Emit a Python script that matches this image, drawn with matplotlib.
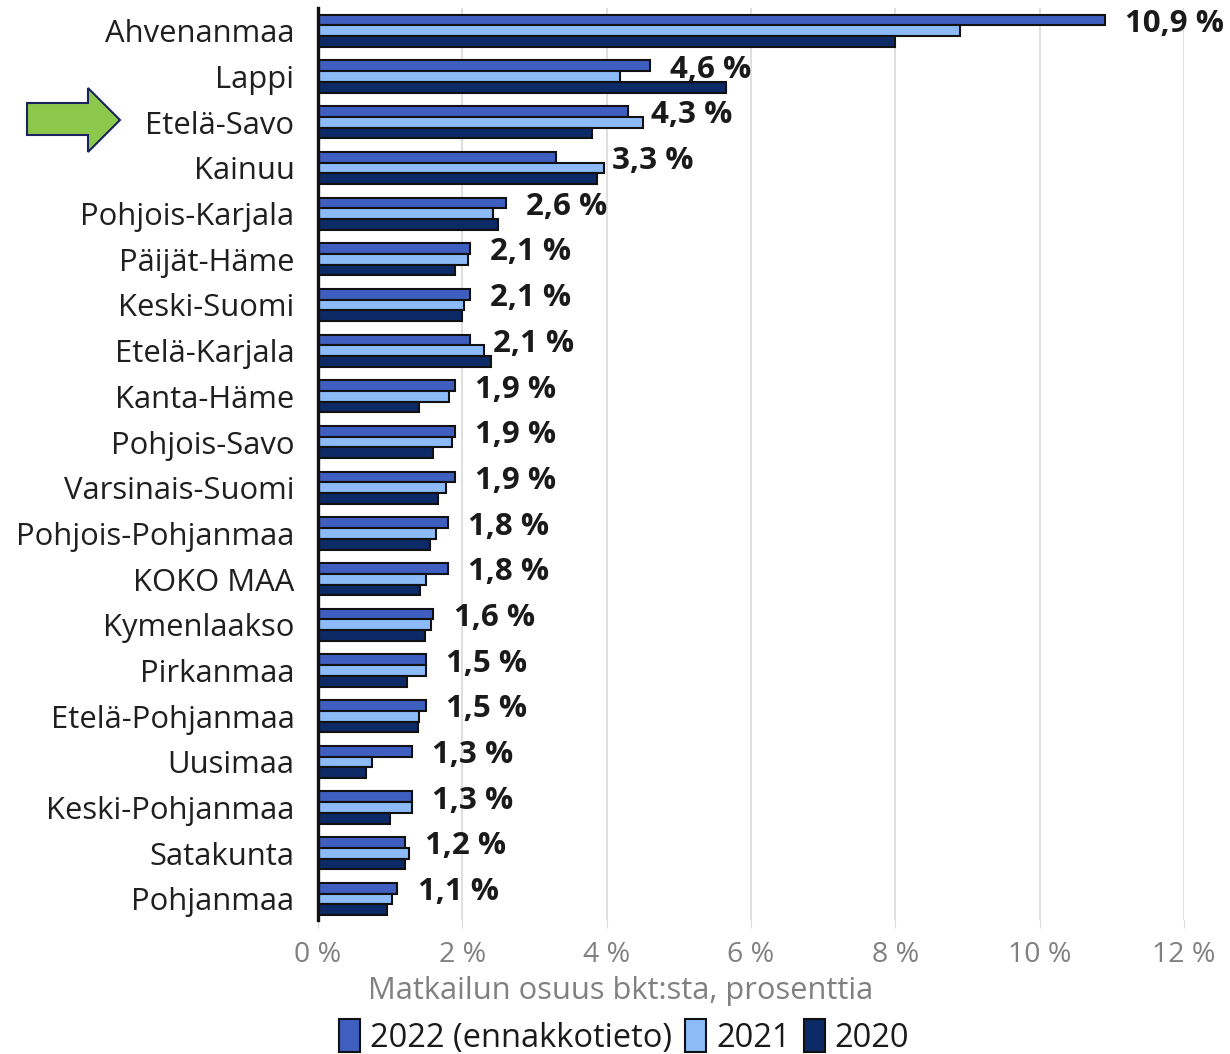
import matplotlib
matplotlib.use("Agg")
import matplotlib.pyplot as plt
from matplotlib.patches import Polygon, Patch
import numpy as np

plt.rcParams['font.family'] = ['Open Sans', 'DejaVu Sans']

regions = ["Ahvenanmaa", "Lappi", "Etelä-Savo", "Kainuu", "Pohjois-Karjala",
           "Päijät-Häme", "Keski-Suomi", "Etelä-Karjala", "Kanta-Häme",
           "Pohjois-Savo", "Varsinais-Suomi", "Pohjois-Pohjanmaa", "KOKO MAA",
           "Kymenlaakso", "Pirkanmaa", "Etelä-Pohjanmaa", "Uusimaa",
           "Keski-Pohjanmaa", "Satakunta", "Pohjanmaa"]

share_2022 = [10.9, 4.6, 4.3, 3.3, 2.6, 2.1, 2.1, 2.1, 1.9, 1.9, 1.9, 1.8, 1.8,
              1.6, 1.5, 1.5, 1.3, 1.3, 1.2, 1.1]
share_2021 = [8.89, 4.18, 4.50, 3.96, 2.43, 2.08, 2.03, 2.30, 1.81, 1.85, 1.78,
              1.64, 1.50, 1.57, 1.49, 1.40, 0.75, 1.30, 1.26, 1.03]
share_2020 = [8.00, 5.65, 3.79, 3.87, 2.50, 1.90, 1.99, 2.40, 1.40, 1.59, 1.66,
              1.55, 1.42, 1.48, 1.24, 1.38, 0.67, 1.00, 1.21, 0.95]

series_labels = ["2022 (ennakkotieto)", "2021", "2020"]
colors = ["#3F5FC0", "#8CBBF7", "#0B2A66"]
x_ticks = [0, 2, 4, 6, 8, 10, 12]

W, H = 1230, 1054
fig = plt.figure(figsize=(W / 100, H / 100), dpi=100)
ax = fig.add_axes([318 / W, 134 / H, (1184 - 318) / W, (1046 - 134) / H])

y = np.arange(len(regions))
bh = 0.235
for k, (vals, col) in enumerate(zip([share_2022, share_2021, share_2020], colors)):
    ax.barh(y + (k - 1) * bh, vals, height=bh, color=col, edgecolor="#111111",
            linewidth=1.5, zorder=3)

# value labels sit just past the 2022 bar, or past the 2021 bar when that is longer
for yi, v22, v21 in zip(y, share_2022, share_2021):
    xpos = max(v22 + 0.28, v21 + 0.12)
    ax.text(xpos, yi - 0.15, f"{v22:.1f} %".replace(".", ","), ha="left",
            va="center", fontsize=22.5, fontweight="bold", color="#1a1a1a", zorder=4)

ax.set_xlim(0, 12)
ax.set_ylim(len(regions) - 0.54, -0.5)
ax.set_xticks(x_ticks)
ax.set_xticklabels([f"{t} %" for t in x_ticks], fontsize=20.5, color="#808080")
ax.set_yticks(y)
ax.set_yticklabels(regions, fontsize=22.3, color="#1f1f1f")
ax.tick_params(axis="y", length=0, pad=17)
ax.tick_params(axis="x", length=6, color="#d9d9d9", pad=9)
ax.grid(axis="x", color="#d9d9d9", linewidth=1.2, zorder=0)
for s in ["top", "right", "bottom"]:
    ax.spines[s].set_visible(False)
ax.spines["left"].set_linewidth(2.4)
ax.spines["left"].set_color("#111111")
ax.spines["left"].set_zorder(5)

fig.text(621 / W, 1 - 991 / H, "Matkailun osuus bkt:sta, prosenttia",
         ha="center", va="center", fontsize=22.2, color="#808080")

handles = [Patch(facecolor=c, edgecolor="#111111", linewidth=1.5) for c in colors]
fig.legend(handles, series_labels, loc="center", bbox_to_anchor=(624 / W, 1 - 1037 / H),
           ncol=3, frameon=False, fontsize=23.5, handlelength=0.65, handleheight=1.15,
           handletextpad=0.3, columnspacing=0.4, labelcolor="#1a1a1a")

# highlight arrow pointing at Etelä-Savo (pixel coordinates converted to inches)
arrow_px = [(27, 103), (88, 103), (88, 88), (120, 120), (88, 152), (88, 135), (27, 135)]
arrow_in = [(px / 100, (H - py) / 100) for px, py in arrow_px]
fig.patches.append(Polygon(arrow_in, closed=True, facecolor="#8CC84B",
                           edgecolor="#1c2260", linewidth=1.5,
                           transform=fig.dpi_scale_trans, figure=fig))

fig.savefig("out.png", dpi=100)
